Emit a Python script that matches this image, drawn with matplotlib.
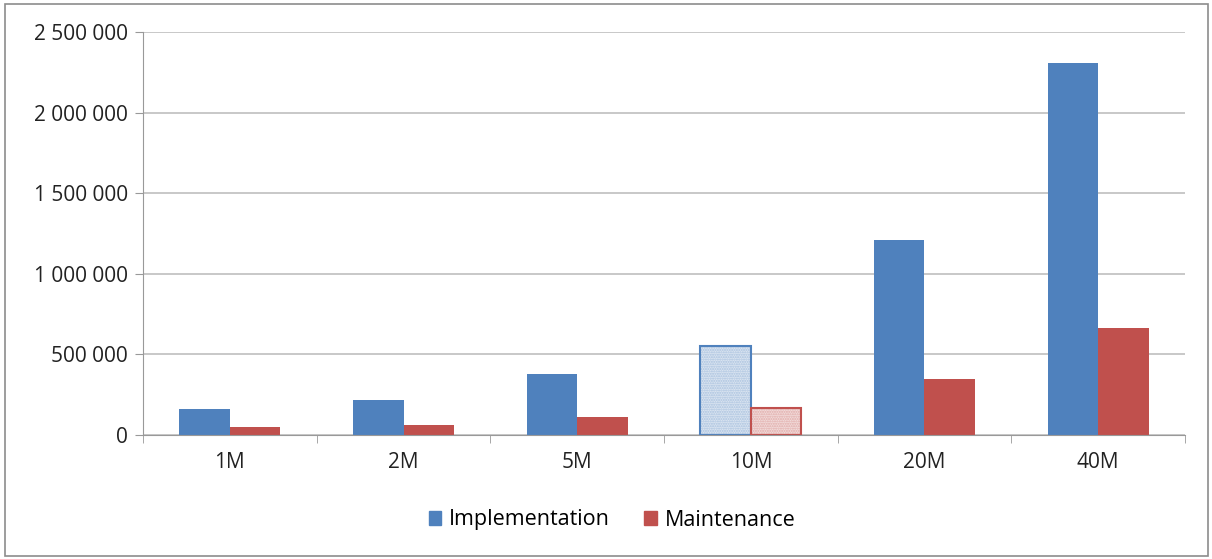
import numpy as np
import matplotlib.pyplot as plt
from matplotlib.patches import Rectangle
from matplotlib.ticker import FuncFormatter

# Data
categories = ['1M', '2M', '5M', '10M', '20M', '40M']
implementation = [160000, 215000, 380000, 550000, 1210000, 2310000]
maintenance = [50000, 60000, 110000, 165000, 345000, 665000]
estimated = '10M'  # drawn hatched

blue = '#4f81bd'
red = '#c0504d'
grid_col = '#bfbfbf'

plt.rcParams['font.family'] = ['Open Sans', 'DejaVu Sans']

fig = plt.figure(figsize=(12.12, 5.59), dpi=100)
ax = fig.add_axes([143 / 1212, 1 - 435 / 559, (1185 - 143) / 1212, (435 - 32) / 559])

x = np.arange(len(categories))
w = 0.29

for i, cat in enumerate(categories):
    if cat == estimated:
        ax.bar(x[i] - w / 2, implementation[i], w, color='#dbe5f1', edgecolor='#a7c0de',
               hatch='.......', linewidth=0, zorder=3)
        ax.bar(x[i] - w / 2, implementation[i], w, fill=False, edgecolor=blue, linewidth=1.5, zorder=4)
        ax.bar(x[i] + w / 2, maintenance[i], w, color='#f2dcdb', edgecolor='#e0a9a7',
               hatch='.......', linewidth=0, zorder=3)
        ax.bar(x[i] + w / 2, maintenance[i], w, fill=False, edgecolor=red, linewidth=1.5, zorder=4)
    else:
        ax.bar(x[i] - w / 2, implementation[i], w, color=blue, zorder=3)
        ax.bar(x[i] + w / 2, maintenance[i], w, color=red, zorder=3)

ax.set_xlim(-0.5, len(categories) - 0.5)
ax.set_ylim(0, 2500000)
ax.set_yticks(np.arange(0, 2500001, 500000))
ax.yaxis.set_major_formatter(FuncFormatter(lambda v, p: f'{int(v):,}'.replace(',', ' ')))
ax.grid(axis='y', color=grid_col, linewidth=1.2, zorder=0)

ax.set_xticks(x)
ax.set_xticklabels(categories)
ax.set_xticks(np.arange(-0.5, len(categories)), minor=True)
ax.tick_params(axis='x', which='major', length=0, pad=12, labelsize=15, colors='#222222')
ax.tick_params(axis='x', which='minor', length=6, color='#999999', direction='out')
ax.tick_params(axis='y', length=6, color='#999999', labelsize=15, colors='#222222', pad=5)

for s in ['top', 'right']:
    ax.spines[s].set_visible(False)
ax.spines['left'].set_color('#999999')
ax.spines['bottom'].set_color('#999999')
ax.spines['left'].set_zorder(5)
ax.spines['bottom'].set_zorder(5)

h1 = Rectangle((0, 0), 1, 1, color=blue)
h2 = Rectangle((0, 0), 1, 1, color=red)
fig.legend([h1, h2], ['Implementation', 'Maintenance'], loc='center',
           bbox_to_anchor=(612 / 1212, 1 - 520 / 559), ncol=2, frameon=False,
           fontsize=15.5, handlelength=0.6, handleheight=0.6, handletextpad=0.35,
           columnspacing=1.6)

fig.patches.append(Rectangle((5 / 1212, 3 / 559), 1203 / 1212, 552 / 559, transform=fig.transFigure,
                             fill=False, edgecolor='#8c8c8c', linewidth=1.2))

fig.savefig('out.png', dpi=100, facecolor='white')
